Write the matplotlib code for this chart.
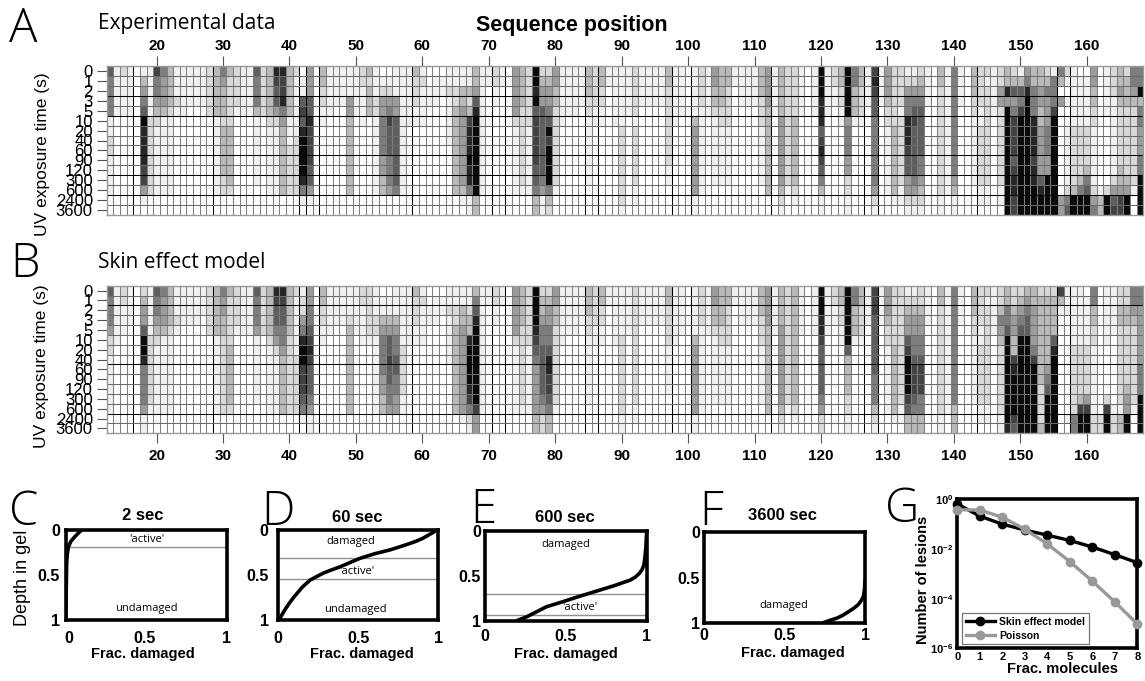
import numpy as np
import matplotlib
matplotlib.use("Agg")
import matplotlib.pyplot as plt
from matplotlib.colors import ListedColormap

plt.rcParams['font.family'] = ['Liberation Sans', 'DejaVu Sans']
plt.rcParams['mathtext.fontset'] = 'custom'
plt.rcParams['mathtext.bf'] = 'Liberation Sans:bold'
plt.rcParams['mathtext.rm'] = 'Liberation Sans'

W, H = 1145, 681

# heatmap data: one string per sequence position, one grey level per exposure time
exposure_labels = ["0", "1", "2", "3", "5", "10", "20", "40", "60", "90", "120", "300", "600", "2400", "3600"]
first_position = 13
position_ticks = list(range(20, 161, 10))
grey_ramp = ['1.0', '0.94', '0.85', '0.73', '0.61', '0.49', '0.37', '0.26', '0.15', '0.04']

experiment_cols = [
    # 13
    "655551122111100", "111110000000000", "211110000000000", "111110000000000", "000000000000000",
    "134569888877410", "111112222222200", "755432111111100", "544431111111100", "333321111111100",
    # 23
    "111210000000000", "111110000000000", "111100000000000", "111100000000000", "111100000000000",
    "222220000000000", "333331111111100", "543332333332200", "322222333333200", "222210000000000",
    # 33
    "111110000000000", "111110000000000", "655531111111000", "222220000000000", "333332111111100",
    "876642111111100", "877854333333300", "333331112222200", "211111122222200", "011676899998510",
    # 43
    "444668777766410", "000000000000000", "332211000000000", "111110000000000", "111100000000000",
    "111100000000000", "111443333333300", "111110000000000", "221111000000000", "323330000000000",
    # 53
    "111221111111100", "012445555443300", "012457666555400", "111446666666500", "111111111111100",
    "111111000000000", "322211000000000", "121111000000000", "001100000000000", "011100000000000",
    # 63
    "011000000000000", "112111110000000", "112233333333300", "113344444444310", "113237888988511",
    "334689999999933", "111111111111100", "110000000000000", "221100000000000", "110000000000000",
    # 73
    "000000000000000", "444442111111100", "333322222222100", "222222111111100", "998967777766533",
    "234466666665411", "234456979999532", "443322222222100", "111111000000000", "111110000000000",
    # 83
    "111110000000000", "111100000000000", "333221111111000", "222211000000000", "332211000000000",
    "110000000000000", "111111000000000", "111111222222221", "111110000000000", "222221222222110",
    # 93
    "111100000000000", "111100000000000", "111100000000000", "111100000000000", "332222222211000",
    "111111000000000", "111110000000000", "000000000000000", "111113444444411", "222211111111100",
    # 103
    "111110000000000", "443321111111000", "333322111111000", "332222111111000", "110000000000000",
    "111100000000000", "111100000000000", "111100000000000", "333222111111000", "444433333333300",
    # 113
    "111110000000000", "333334444444321", "222222222222100", "222223333333210", "111110000000000",
    "000000000000000", "111110000000000", "999888678765311", "111110000000000", "221100000000000",
    # 123
    "332211000000000", "999994555442211", "553331000000000", "332221000000000", "111100000000000",
    "787665555555421", "111100000000000", "444322111111100", "222222333333310", "222212222222110",
    # 133
    "124558887664421", "124567666665421", "234566666554321", "111100000000000", "000000000000000",
    "332222222222211", "111111111111100", "555555555554311", "111100000000000", "000000000000000",
    # 143
    "333221111111000", "222211222222110", "212222222222110", "111110000000000", "224422222222110",
    "338499999999999", "236457777678877", "136579999999999", "458999999999999", "335558888788999",
    # 153
    "334433444446899", "235444555449999", "155579999999999", "530400000000044", "210100111111256",
    "111111222222399", "011111222223599", "011111222235699", "443322111111245", "000000000000133",
    # 163
    "111110000000299", "222111111112467", "334322222233477", "233322222223499", "554322222222100",
    "559355444559999",
]

model_cols = [
    # 13
    "655542211111100", "111111000000000", "221110000000000", "111100000000000", "000000000000000",
    "234469985555411", "111112222222100", "655432111111100", "544431111111100", "333321111111100",
    # 23
    "111210000000000", "111100000000000", "111100000000000", "111100000000000", "111000000000000",
    "222220000000000", "333331111111100", "544332222222200", "322222333333200", "222210000000000",
    # 33
    "111110000000000", "111110000000000", "655541111111000", "222220000000000", "333332111111100",
    "876654211111100", "876655433333300", "333332222222200", "211111122222200", "122458997776510",
    # 43
    "445567876665411", "000000000000000", "332211000000000", "111110000000000", "111100000000000",
    "111100000000000", "111233333333300", "111110000000000", "221111000000000", "222221000000000",
    # 53
    "111221111111100", "011345555443300", "011346676655400", "111345566554400", "111111222221100",
    "111111000000000", "322211000000000", "121111000000000", "001100000000000", "011100000000000",
    # 63
    "011000000000000", "112111110000000", "112233333333300", "113344444444410", "112338999987521",
    "356899999999744", "111111111111100", "110000000000000", "221100000000000", "110000000000000",
    # 73
    "000000000000000", "444442111111100", "333322222222100", "222222111111100", "999987654444433",
    "233455666665422", "234455688776533", "443322222222100", "111111000000000", "111110000000000",
    # 83
    "111110000000000", "111100000000000", "333221111111000", "222211000000000", "332211000000000",
    "110000000000000", "111111000000000", "111112222222211", "111110000000000", "222222222222110",
    # 93
    "111100000000000", "111100000000000", "111100000000000", "111100000000000", "332222111110000",
    "111111000000000", "111110000000000", "000000000000000", "111113444444411", "222211111111100",
    # 103
    "111110000000000", "443321111111000", "333322111111000", "332222111111000", "110000000000000",
    "111100000000000", "111100000000000", "111100000000000", "333222111111000", "444433333333300",
    # 113
    "111110000000000", "333344444444321", "222222222222100", "333333333333210", "111110000000000",
    "000000000000000", "111110000000000", "999887666665422", "111110000000000", "221100000000000",
    # 123
    "332211000000000", "999999633332211", "553331000000000", "332221000000000", "111100000000000",
    "777666666555321", "111100000000000", "444322111111100", "222222333333310", "222222222222110",
    # 133
    "123446799997633", "123445567776533", "223445567775533", "111100000000000", "000000000000000",
    "332222222222211", "111111111111100", "555555555555333", "111100000000000", "000000000000000",
    # 143
    "333221111111000", "222211222222110", "212222222222110", "111110000000000", "223543222222211",
    "335569999999998", "223443378999976", "234569999999999", "345669999999999", "334444579999999",
    # 153
    "233333333322223", "233333334569999", "233336899999999", "731000000000000", "111000000000010",
    "111111222222255", "111111222223799", "011111222224799", "553322111111122", "000000000000022",
    # 163
    "111111000002799", "111110000000122", "223322222222133", "223322222234499", "554322222222100",
    "554444445559999",
]

# moire in the grid: these cell edges come out black
dark_col_edges = [17, 29, 42, 43, 45, 59, 71, 73, 85, 87, 98, 101, 113, 127, 129, 144, 156, 158]
dark_rows_a = [3, 5, 9, 11, 13]
dark_rows_b = [2, 8, 13]

# depth curves, (fraction damaged, depth in gel)
c_frac = [0.0, 0.002, 0.004, 0.006, 0.010, 0.017, 0.033, 0.058, 0.08, 0.10]
c_depth = [1.0, 0.8, 0.6, 0.37, 0.27, 0.19, 0.125, 0.074, 0.035, 0.0]
d_frac = [0.005, 0.02, 0.04, 0.07, 0.10, 0.15, 0.20, 0.28, 0.33, 0.385, 0.45, 0.51, 0.60, 0.70, 0.78, 0.854, 0.90, 0.94, 0.97, 0.99]
d_depth = [1.0, 0.95, 0.89, 0.81, 0.74, 0.635, 0.555, 0.48, 0.445, 0.41, 0.36, 0.315, 0.265, 0.22, 0.175, 0.13, 0.095, 0.055, 0.025, 0.0]
e_frac = [0.196, 0.26, 0.32, 0.38, 0.48, 0.577, 0.71, 0.80, 0.897, 0.93, 0.955, 0.972, 0.983, 0.99, 0.995, 1.0]
e_depth = [1.0, 0.955, 0.9, 0.845, 0.79, 0.733, 0.66, 0.61, 0.55, 0.515, 0.474, 0.43, 0.38, 0.28, 0.18, 0.0]
f_frac = [0.74, 0.78, 0.824, 0.86, 0.896, 0.93, 0.958, 0.975, 0.99, 0.997, 1.0]
f_depth = [1.0, 0.975, 0.95, 0.92, 0.88, 0.84, 0.80, 0.76, 0.71, 0.63, 0.53]

# lesion counts
lesion_x = [0, 1, 2, 3, 4, 5, 6, 7, 8]
skin_lesions = [0.65, 0.21, 0.1, 0.058, 0.036, 0.022, 0.012, 0.0059, 0.0028]
poisson_lesions = [0.38, 0.37, 0.19, 0.062, 0.016, 0.0031, 5.1e-4, 7.4e-5, 9.5e-6]

fig = plt.figure(figsize=(W / 100, H / 100), dpi=100)


def px_axes(left, top, right, bottom):
    return fig.add_axes([left / W, 1 - bottom / H, (right - left) / W, (bottom - top) / H])


def px_text(x, y, s, **kw):
    kw.setdefault('ha', 'center')
    kw.setdefault('va', 'center')
    return fig.text(x / W, 1 - y / H, s, **kw)


def heatmap(box, cols, dark_rows, top_ticks):
    ax = px_axes(*box)
    levels = np.array([[int(c) for c in col] for col in cols], dtype=float).T
    n_rows, n_cols = levels.shape
    x_edges = first_position - 0.5 + np.arange(n_cols + 1)
    y_edges = np.arange(n_rows + 1) - 0.5
    ax.pcolormesh(x_edges, y_edges, levels, cmap=ListedColormap(grey_ramp), vmin=-0.5, vmax=9.5,
                  antialiased=False)
    ax.set_ylim(n_rows - 0.5, -0.5)
    ax.set_xlim(x_edges[0], x_edges[-1])

    # grid, grey with some black lines
    for p in x_edges[1:-1]:
        black = int(p + 0.5) in dark_col_edges
        ax.axvline(p, color='black' if black else '#808080', lw=0.75, zorder=2)
    for r in range(1, n_rows):
        black = r in dark_rows
        ax.axhline(r - 0.5, color='black' if black else '#6a6a6a', lw=0.75, zorder=2)

    for s in ax.spines.values():
        s.set_color('#999999')
        s.set_linewidth(1.0)

    ax.set_yticks(range(n_rows))
    ax.set_yticklabels(exposure_labels, fontsize=12)
    ax.tick_params(axis='y', length=7, width=0.8, color='#555555', pad=3)
    ax.set_xticks(position_ticks)
    ax.set_xticklabels([str(p) for p in position_ticks], fontsize=11, fontweight='bold')
    if top_ticks:
        ax.tick_params(axis='x', top=True, bottom=False, labeltop=True, labelbottom=False,
                       length=7, width=0.8, color='#555555', pad=2.5)
    else:
        ax.tick_params(axis='x', length=7, width=0.8, color='#555555', pad=4)
    return ax


heatmap((106.7, 66, 1143.3, 215), experiment_cols, dark_rows_a, True)
heatmap((106.7, 285.7, 1143.3, 433.3), model_cols, dark_rows_b, False)

px_text(98, 24, "Experimental data", ha='left', fontsize=15, family='Open Sans')
px_text(98, 262, "Skin effect model", ha='left', fontsize=15, family='Open Sans')
px_text(572, 25, "Sequence position", fontsize=15.5, fontweight='bold')
px_text(43, 154, "UV exposure time (s)", rotation=90, fontsize=12.5)
px_text(42, 366, "UV exposure time (s)", rotation=90, fontsize=12.5)


def depth_panel(box, frac, depth, title, title_xy, xlabel_xy, grey_lines, xticks, pad_x, pad_y):
    ax = px_axes(*box)
    ax.set_xlim(0, 1)
    ax.set_ylim(1, 0)
    for g in grey_lines:
        ax.axhline(g, color='#909090', lw=1.0, zorder=1)
    ax.plot(frac, depth, color='black', lw=2.6, solid_capstyle='round', zorder=3)
    for s in ax.spines.values():
        s.set_linewidth(2.6)
    ax.set_xticks(xticks)
    ax.set_xticklabels(["0", "0.5", "1"], fontsize=11.5, fontweight='bold')
    ax.set_yticks([0, 0.5, 1])
    ax.set_yticklabels(["0", "0.5", "1"], fontsize=11.5, fontweight='bold')
    ax.tick_params(axis='x', length=0, pad=pad_x)
    ax.tick_params(axis='y', length=0, pad=pad_y)
    px_text(*title_xy, title, fontsize=12, fontweight='bold')
    px_text(*xlabel_xy, "Frac. damaged", fontsize=10.5, fontweight='bold')
    return ax


depth_panel((65.7, 530, 226.7, 620), c_frac, c_depth, "2 sec", (143, 515), (142.7, 654),
            [0.19], [0.02, 0.5, 1.02], 8, 4)
depth_panel((278.3, 530, 438.3, 620), d_frac, d_depth, "60 sec", (357, 517), (361.7, 654),
            [0.307, 0.548], [0, 0.5, 1], 8, 7)
depth_panel((485, 530.7, 646.7, 620.7), e_frac, e_depth, "600 sec", (565, 517.7), (566, 654),
            [0.70, 0.937], [0, 0.5, 1], 6, 3)
depth_panel((704.3, 532.3, 865, 622.7), f_frac, f_depth, "3600 sec", (783, 516), (793, 653),
            [], [0, 0.5, 1], 4, 3)

px_text(22.7, 578, "Depth in gel", rotation=90, fontsize=13)

narrow = ['Liberation Sans Narrow', 'Open Sans']
for x, y, s in [(146.7, 540, "'active'"), (146.7, 609, "undamaged"),
                (351, 541.7, "damaged"), (357, 571.7, "'active'"), (355, 609.3, "undamaged"),
                (566, 544, "damaged"), (580, 607.3, "'active'"),
                (784.3, 605.7, "damaged")]:
    px_text(x, y, s, fontsize=8, family=narrow)

# panel G
ax_g = px_axes(957.3, 499.3, 1137.3, 648.3)
ax_g.set_yscale('log')
ax_g.plot(lesion_x, skin_lesions, color='black', lw=2.4, marker='o', ms=6, clip_on=False,
          zorder=4, label="Skin effect model")
ax_g.plot(lesion_x, poisson_lesions, color='#999999', lw=2.4, marker='o', ms=6, clip_on=False,
          zorder=5, label="Poisson")
ax_g.set_xlim(0, 8)
ax_g.set_ylim(1e-6, 1)
ax_g.set_xticks(lesion_x)
ax_g.set_xticklabels([str(v) for v in lesion_x], fontsize=8, fontweight='bold')
ax_g.set_yticks([1, 1e-2, 1e-4, 1e-6])
ax_g.set_yticklabels([r'$\mathbf{10^{0}}$', r'$\mathbf{10^{-2}}$', r'$\mathbf{10^{-4}}$', r'$\mathbf{10^{-6}}$'],
                     fontsize=8)
ax_g.minorticks_off()
ax_g.tick_params(length=0, pad=3)
for s in ax_g.spines.values():
    s.set_linewidth(2.6)
leg = ax_g.legend(loc='lower left', bbox_to_anchor=(962 / W, 1 - 644.3 / H), bbox_transform=fig.transFigure,
                  borderaxespad=0, fancybox=False, framealpha=1, edgecolor='#777777',
                  prop={'size': 7.5, 'weight': 'bold'}, handlelength=2.8, handletextpad=0.4,
                  labelspacing=0.35, borderpad=0.35)
leg.set_zorder(10)
leg.get_frame().set_linewidth(0.9)
px_text(923, 580, "Number of lesions", rotation=90, fontsize=10.5, fontweight='bold')
px_text(1062.7, 669, "Frac. molecules", fontsize=10.5, fontweight='bold')

# panel letters
for x, y, s in [(9, 42, "A"), (10, 277, "B"), (9, 525, "C"), (261, 525, "D"),
                (470, 523, "E"), (699, 525, "F"), (885, 522, "G")]:
    px_text(x, y, s, ha='left', va='baseline', fontsize=34, family='Open Sans', fontweight='light')

fig.savefig("out.png", dpi=100)
